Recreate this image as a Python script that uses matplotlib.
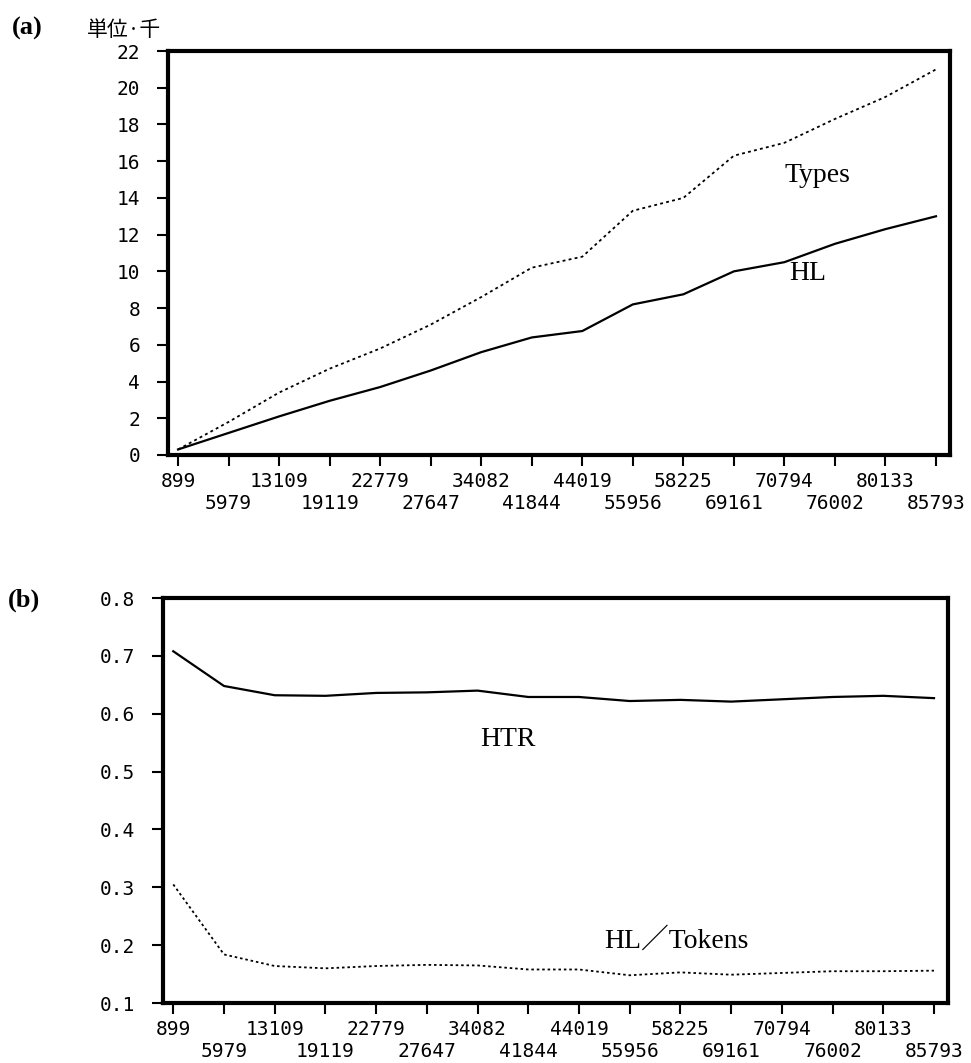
import matplotlib
matplotlib.use("Agg")
import matplotlib.pyplot as plt
import numpy as np

# ---- data ----
tokens = ["899", "5979", "13109", "19119", "22779", "27647", "34082", "41844",
          "44019", "55956", "58225", "69161", "70794", "76002", "80133", "85793"]

# panel (a), unit: thousands
types_k = [0.3, 1.8, 3.4, 4.7, 5.8, 7.1, 8.6, 10.2,
           10.8, 13.3, 14.0, 16.3, 17.0, 18.3, 19.5, 21.0]
hl_k = [0.3, 1.2, 2.1, 2.95, 3.7, 4.6, 5.6, 6.4,
        6.75, 8.2, 8.75, 10.0, 10.5, 11.5, 12.3, 13.0]

# panel (b)
htr = [0.708, 0.648, 0.632, 0.631, 0.636, 0.637, 0.640, 0.629,
       0.629, 0.622, 0.624, 0.621, 0.625, 0.629, 0.631, 0.627]
hl_tokens = [0.305, 0.184, 0.164, 0.160, 0.164, 0.166, 0.165, 0.158,
             0.158, 0.148, 0.153, 0.149, 0.152, 0.155, 0.155, 0.156]

a_yticks = list(range(0, 23, 2))
b_yticks = [0.1, 0.2, 0.3, 0.4, 0.5, 0.6, 0.7, 0.8]

TICK_FONT = "DejaVu Sans Mono"
TICK_SIZE = 14
SERIF = ["Liberation Serif", "Noto Sans CJK JP"]

x = np.arange(len(tokens))


def style_axes(ax):
    for sp in ax.spines.values():
        sp.set_linewidth(3.0)
        sp.set_color("black")
    # even positions -> first row (major), odd positions -> second row (minor)
    ax.set_xticks(x[0::2])
    ax.set_xticklabels(tokens[0::2], fontfamily=TICK_FONT, fontsize=TICK_SIZE)
    ax.set_xticks(x[1::2], minor=True)
    ax.set_xticklabels(tokens[1::2], minor=True, fontfamily=TICK_FONT, fontsize=TICK_SIZE)
    ax.tick_params(axis="both", which="both", direction="out", length=8, width=1.5, colors="black")
    ax.tick_params(axis="x", which="major", pad=4)
    ax.tick_params(axis="x", which="minor", pad=20)
    ax.tick_params(axis="y", pad=12)
    ax.set_xlim(-0.2, 15.27)
    for lab in ax.get_yticklabels():
        lab.set_fontfamily(TICK_FONT)
        lab.set_fontsize(TICK_SIZE)


fig = plt.figure(figsize=(9.71, 10.63), dpi=100)

# ==== (a) ====
ax1 = fig.add_axes([0.173, 0.572, 0.805, 0.380])
ax1.plot(x, types_k, color="black", lw=1.3, linestyle=(0, (1.6, 1.8)))
ax1.plot(x, hl_k, color="black", lw=1.6)
ax1.set_ylim(0, 22)
ax1.set_yticks(a_yticks)
ax1.set_yticklabels([str(v) for v in a_yticks])
style_axes(ax1)
ax1.text(12.65, 15.2, "Types", fontfamily=SERIF, fontsize=20, ha="center", va="center")
ax1.text(12.47, 9.9, "HL", fontfamily=SERIF, fontsize=20, ha="center", va="center")

fig.text(12 / 971, 1 - 28 / 1063, "(a)", fontfamily="Liberation Serif", fontweight="bold",
         fontsize=19, ha="left", va="center")
fig.text(87 / 971, 1 - 30 / 1063, "単位·千", fontfamily=["Noto Sans CJK JP", "DejaVu Sans"],
         fontsize=15, ha="left", va="center")

# ==== (b) ====
ax2 = fig.add_axes([0.168, 0.0564, 0.808, 0.381])
ax2.plot(x, htr, color="black", lw=1.6)
ax2.plot(x, hl_tokens, color="black", lw=1.3, linestyle=(0, (1.4, 1.6)))
ax2.set_ylim(0.1, 0.8)
ax2.set_yticks(b_yticks)
ax2.set_yticklabels([f"{v:.1f}" for v in b_yticks])
style_axes(ax2)
ax2.text(6.6, 0.555, "HTR", fontfamily=SERIF, fontsize=20, ha="center", va="center")
ax2.text(9.92, 0.207, "HL／Tokens", fontfamily=SERIF, fontsize=20, ha="center", va="center")

fig.text(8 / 971, 1 - 600 / 1063, "(b)", fontfamily="Liberation Serif", fontweight="bold",
         fontsize=19, ha="left", va="center")

fig.savefig("out.png", dpi=100)
